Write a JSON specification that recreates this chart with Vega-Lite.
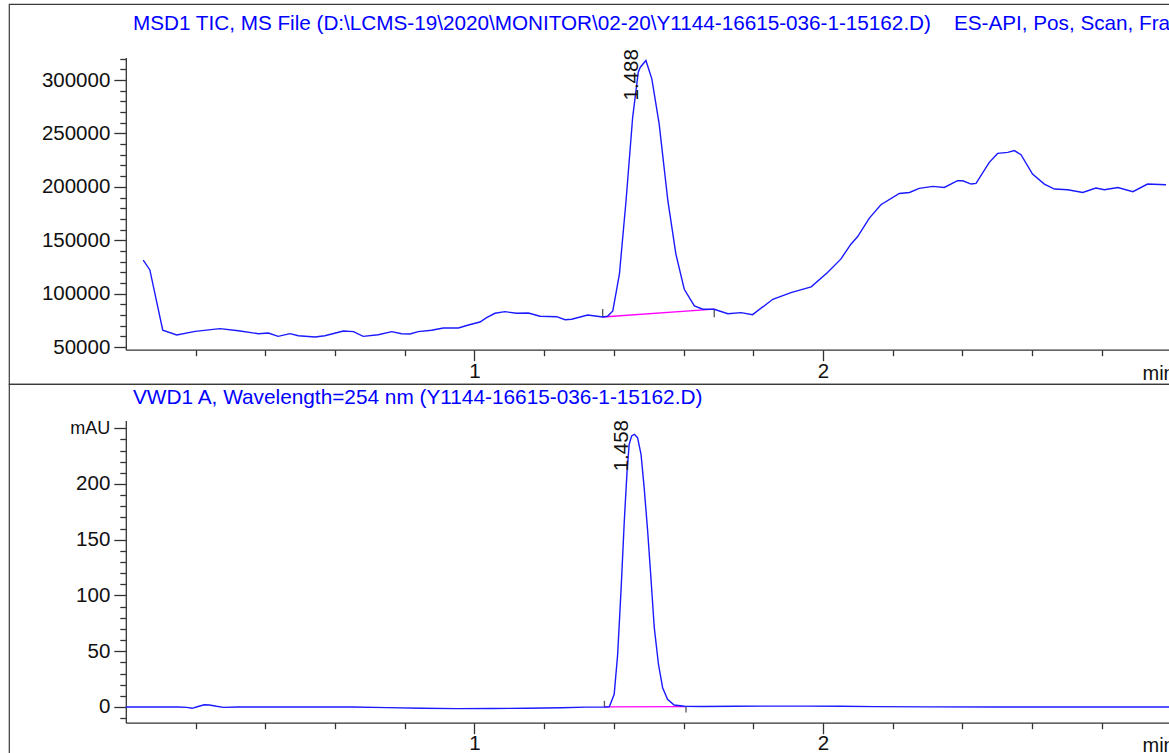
{
  "$schema": "https://vega.github.io/schema/vega-lite/v6.json",
  "padding": {"left": 8, "top": 3, "right": 0, "bottom": 0},
  "autosize": {"type": "pad"},
  "spacing": 0,
  "bounds": "flush",
  "config": {
    "font": "Liberation Sans",
    "view": {"stroke": "#3a3a3a", "strokeWidth": 1.2},
    "axis": {
      "grid": false,
      "domainColor": "#333333",
      "tickColor": "#333333",
      "domainWidth": 1.3,
      "tickWidth": 1.3,
      "labelColor": "#111111",
      "labelFont": "Liberation Sans",
      "labelFontSize": 20.5,
      "labelFlush": false,
      "labelOverlap": false,
      "titleFontWeight": "normal"
    }
  },
  "vconcat": [
    {
      "width": 1165,
      "height": 380,
      "title": {
        "text": "MSD1 TIC, MS File (D:\\LCMS-19\\2020\\MONITOR\\02-20\\Y1144-16615-036-1-15162.D)\u00a0\u00a0\u00a0\u00a0ES-API, Pos, Scan, Frag",
        "anchor": "start",
        "frame": "group",
        "orient": "top",
        "dx": 124,
        "offset": -47,
        "baseline": "alphabetic",
        "color": "#0000ff",
        "fontSize": 20.7,
        "fontWeight": "normal",
        "font": "Liberation Sans"
      },
      "encoding": {
        "x": {
          "field": "t",
          "type": "quantitative",
          "scale": {"domain": [0, 3], "range": [116.8, 1162.6], "nice": false, "zero": false},
          "axis": {
            "title": "min",
            "values": [0.2, 0.4, 0.6, 0.8, 1, 1.2, 1.4, 1.6, 1.8, 2, 2.2, 2.4, 2.6, 2.8],
            "labelExpr": "datum.value == 1 ? '1' : (datum.value == 2 ? '2' : '')",
            "tickSize": {"condition": {"test": "datum.value == 1 || datum.value == 2", "value": 11}, "value": 6},
            "labelBaseline": "alphabetic",
            "labelPadding": 17,
            "offset": -34.3,
            "titleX": 1133,
            "titleY": 30,
            "titleAlign": "left",
            "titleBaseline": "alphabetic",
            "titleFontSize": 20,
            "titleColor": "#111111"
          }
        },
        "y": {
          "field": "v",
          "type": "quantitative",
          "scale": {"domain": [47500, 321000], "range": [345.7, 53.6], "nice": false, "zero": false},
          "axis": {
            "title": null,
            "values": [50000, 60000, 70000, 80000, 90000, 100000, 110000, 120000, 130000, 140000, 150000, 160000, 170000, 180000, 190000, 200000, 210000, 220000, 230000, 240000, 250000, 260000, 270000, 280000, 290000, 300000, 310000, 320000],
            "labelExpr": "datum.value % 50000 == 0 ? format(datum.value, 'd') : ''",
            "tickSize": {"condition": {"test": "datum.value % 50000 == 0", "value": 12}, "value": 6},
            "labelPadding": 4,
            "offset": -116.8
          }
        }
      },
      "layer": [
        {
          "data": {"values": [{"t": 1.368, "v": 78100, "t2": 1.688, "v2": 85400}]},
          "mark": {"type": "rule", "color": "#ff00ff", "strokeWidth": 1.3},
          "encoding": {"x2": {"field": "t2"}, "y2": {"field": "v2"}}
        },
        {
          "data": {"values": [{"t": 1.368, "v": 78100, "v2": 85600}, {"t": 1.688, "v": 85400, "v2": 77900}]},
          "mark": {"type": "rule", "color": "#555555", "strokeWidth": 1.3},
          "encoding": {"y2": {"field": "v2"}}
        },
        {
          "data": {"values": [
            {"t": 0.050, "v": 131300}, {"t": 0.069, "v": 122200}, {"t": 0.106, "v": 65700}, {"t": 0.146, "v": 61300},
            {"t": 0.199, "v": 64700}, {"t": 0.270, "v": 67200}, {"t": 0.323, "v": 65300}, {"t": 0.380, "v": 62500},
            {"t": 0.409, "v": 63100}, {"t": 0.437, "v": 60000}, {"t": 0.471, "v": 62500}, {"t": 0.495, "v": 60600},
            {"t": 0.543, "v": 59400}, {"t": 0.571, "v": 60600}, {"t": 0.624, "v": 65000}, {"t": 0.653, "v": 64400},
            {"t": 0.681, "v": 60000}, {"t": 0.724, "v": 61500}, {"t": 0.763, "v": 64400}, {"t": 0.791, "v": 62500},
            {"t": 0.815, "v": 62200}, {"t": 0.839, "v": 64400}, {"t": 0.877, "v": 65700}, {"t": 0.911, "v": 67800},
            {"t": 0.954, "v": 67800}, {"t": 0.983, "v": 70600}, {"t": 1.016, "v": 73400}, {"t": 1.035, "v": 77500},
            {"t": 1.059, "v": 81600}, {"t": 1.088, "v": 83100}, {"t": 1.121, "v": 81600}, {"t": 1.155, "v": 81900},
            {"t": 1.188, "v": 78800}, {"t": 1.236, "v": 78400}, {"t": 1.260, "v": 75600}, {"t": 1.279, "v": 76000},
            {"t": 1.325, "v": 80000}, {"t": 1.368, "v": 78100}, {"t": 1.382, "v": 78800}, {"t": 1.397, "v": 83800},
            {"t": 1.416, "v": 118200}, {"t": 1.435, "v": 187000}, {"t": 1.454, "v": 265100}, {"t": 1.470, "v": 307300},
            {"t": 1.476, "v": 312000}, {"t": 1.492, "v": 318300}, {"t": 1.509, "v": 301100}, {"t": 1.530, "v": 258900},
            {"t": 1.555, "v": 187000}, {"t": 1.578, "v": 137000}, {"t": 1.602, "v": 104100}, {"t": 1.631, "v": 88500},
            {"t": 1.655, "v": 85400}, {"t": 1.688, "v": 85400}, {"t": 1.727, "v": 81200}, {"t": 1.765, "v": 82200},
            {"t": 1.798, "v": 80300}, {"t": 1.856, "v": 94700}, {"t": 1.908, "v": 100900}, {"t": 1.966, "v": 106300},
            {"t": 2.013, "v": 119700}, {"t": 2.051, "v": 132300}, {"t": 2.080, "v": 146300}, {"t": 2.099, "v": 153200},
            {"t": 2.133, "v": 170700}, {"t": 2.166, "v": 183200}, {"t": 2.219, "v": 193800}, {"t": 2.248, "v": 194700},
            {"t": 2.276, "v": 198500}, {"t": 2.315, "v": 200400}, {"t": 2.348, "v": 199400}, {"t": 2.386, "v": 205700},
            {"t": 2.401, "v": 205700}, {"t": 2.425, "v": 202600}, {"t": 2.439, "v": 203200}, {"t": 2.477, "v": 222900},
            {"t": 2.501, "v": 231300}, {"t": 2.530, "v": 232300}, {"t": 2.549, "v": 233900}, {"t": 2.568, "v": 230100},
            {"t": 2.601, "v": 212000}, {"t": 2.635, "v": 202600}, {"t": 2.664, "v": 197900}, {"t": 2.702, "v": 197300},
            {"t": 2.745, "v": 194700}, {"t": 2.783, "v": 198900}, {"t": 2.807, "v": 197300}, {"t": 2.846, "v": 199400},
            {"t": 2.889, "v": 195400}, {"t": 2.931, "v": 202600}, {"t": 2.984, "v": 202000}
          ]},
          "mark": {"type": "line", "color": "#1a1aff", "strokeWidth": 1.4, "interpolate": "linear"},
          "encoding": {}
        },
        {
          "data": {"values": [{"t": 1.488, "v": 318300, "label": "1.488"}]},
          "mark": {"type": "text", "angle": 270, "align": "left", "baseline": "alphabetic", "dx": -40, "dy": -6.5, "fontSize": 20.5, "color": "#111111", "font": "Liberation Sans"},
          "encoding": {"text": {"field": "label"}}
        }
      ]
    },
    {
      "width": 1165,
      "height": 375,
      "title": {
        "text": "VWD1 A, Wavelength=254 nm (Y1144-16615-036-1-15162.D)",
        "anchor": "start",
        "frame": "group",
        "orient": "top",
        "dx": 124,
        "offset": -41,
        "baseline": "alphabetic",
        "color": "#0000ff",
        "fontSize": 20.8,
        "fontWeight": "normal",
        "font": "Liberation Sans"
      },
      "encoding": {
        "x": {
          "field": "t",
          "type": "quantitative",
          "scale": {"domain": [0, 3], "range": [116.8, 1162.6], "nice": false, "zero": false},
          "axis": {
            "title": "min",
            "values": [0.2, 0.4, 0.6, 0.8, 1, 1.2, 1.4, 1.6, 1.8, 2, 2.2, 2.4, 2.6, 2.8],
            "labelExpr": "datum.value == 1 ? '1' : (datum.value == 2 ? '2' : '')",
            "tickSize": {"condition": {"test": "datum.value == 1 || datum.value == 2", "value": 11}, "value": 6},
            "labelBaseline": "alphabetic",
            "labelPadding": 16,
            "offset": -36.3,
            "titleX": 1133,
            "titleY": 29,
            "titleAlign": "left",
            "titleBaseline": "alphabetic",
            "titleFontSize": 20,
            "titleColor": "#111111"
          }
        },
        "y": {
          "field": "v",
          "type": "quantitative",
          "scale": {"domain": [-14.1, 257], "range": [338.7, 36.4], "nice": false, "zero": false},
          "axis": {
            "title": null,
            "values": [-10, 0, 10, 20, 30, 40, 50, 60, 70, 80, 90, 100, 110, 120, 130, 140, 150, 160, 170, 180, 190, 200, 210, 220, 230, 240, 250],
            "labelExpr": "datum.value == 250 ? 'mAU' : (datum.value % 50 == 0 ? format(datum.value, 'd') : '')",
            "labelFontSize": {"condition": {"test": "datum.value == 250", "value": 18}, "value": 20.5},
            "tickSize": {"condition": {"test": "datum.value % 50 == 0", "value": 12}, "value": 6},
            "labelPadding": 4,
            "offset": -116.8
          }
        }
      },
      "layer": [
        {
          "data": {"values": [{"t": 1.373, "v": 0.1, "t2": 1.607, "v2": 0.3}]},
          "mark": {"type": "rule", "color": "#ff00ff", "strokeWidth": 1.3},
          "encoding": {"x2": {"field": "t2"}, "y2": {"field": "v2"}}
        },
        {
          "data": {"values": [{"t": 1.373, "v": 0.1, "v2": 5.5}, {"t": 1.607, "v": 0.3, "v2": -5}]},
          "mark": {"type": "rule", "color": "#555555", "strokeWidth": 1.3},
          "encoding": {"y2": {"field": "v2"}}
        },
        {
          "data": {"values": [
            {"t": 0.0, "v": 0}, {"t": 0.15, "v": 0}, {"t": 0.175, "v": -0.4}, {"t": 0.19, "v": -1.2},
            {"t": 0.205, "v": 0.2}, {"t": 0.225, "v": 2.0}, {"t": 0.24, "v": 1.8}, {"t": 0.26, "v": 0.6},
            {"t": 0.28, "v": -0.4}, {"t": 0.32, "v": 0}, {"t": 0.65, "v": 0}, {"t": 0.75, "v": -0.6},
            {"t": 0.85, "v": -1.2}, {"t": 0.95, "v": -1.5}, {"t": 1.05, "v": -1.4}, {"t": 1.15, "v": -1.1},
            {"t": 1.25, "v": -0.7}, {"t": 1.32, "v": -0.1}, {"t": 1.373, "v": 0}, {"t": 1.387, "v": 0.2},
            {"t": 1.401, "v": 11.4}, {"t": 1.411, "v": 47.3}, {"t": 1.421, "v": 107}, {"t": 1.430, "v": 166.8},
            {"t": 1.438, "v": 211.7}, {"t": 1.444, "v": 235.6}, {"t": 1.451, "v": 243.0}, {"t": 1.459, "v": 244.5},
            {"t": 1.468, "v": 241.5}, {"t": 1.478, "v": 226.6}, {"t": 1.487, "v": 196.7}, {"t": 1.497, "v": 157.8},
            {"t": 1.507, "v": 113}, {"t": 1.516, "v": 71.1}, {"t": 1.528, "v": 38.3}, {"t": 1.540, "v": 17.3},
            {"t": 1.554, "v": 6.9}, {"t": 1.573, "v": 1.8}, {"t": 1.602, "v": 0.6}, {"t": 1.65, "v": 0.4},
            {"t": 1.75, "v": 0.6}, {"t": 1.85, "v": 0.8}, {"t": 1.95, "v": 0.8}, {"t": 2.05, "v": 0.6},
            {"t": 2.15, "v": 0.3}, {"t": 2.3, "v": 0.1}, {"t": 2.5, "v": 0}, {"t": 3.0, "v": 0}
          ]},
          "mark": {"type": "line", "color": "#1a1aff", "strokeWidth": 1.4, "interpolate": "linear"},
          "encoding": {}
        },
        {
          "data": {"values": [{"t": 1.458, "v": 244.5, "label": "1.458"}]},
          "mark": {"type": "text", "angle": 270, "align": "left", "baseline": "alphabetic", "dx": -37, "dy": -6, "fontSize": 20.5, "color": "#111111", "font": "Liberation Sans"},
          "encoding": {"text": {"field": "label"}}
        }
      ]
    }
  ]
}
